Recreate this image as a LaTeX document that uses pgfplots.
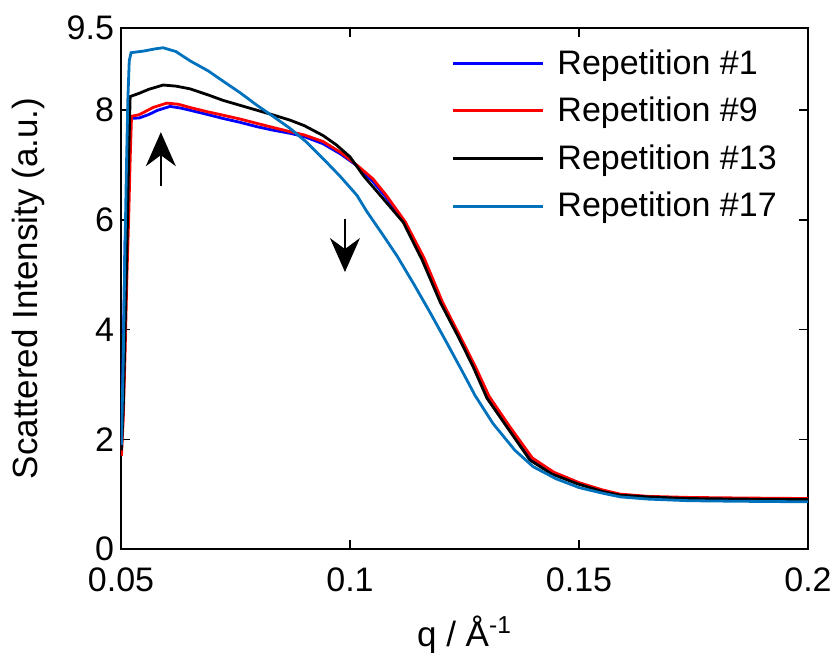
\documentclass[border=0pt]{standalone}
\usepackage{pgfplots}
\pgfplotsset{compat=1.18}
\usepackage{pgfplotstable}
\usepackage{fontspec}
\setmainfont{Liberation Sans}
\usetikzlibrary{arrows.meta}
\definecolor{matblue}{HTML}{0072BD}

\pgfplotstableread{
q I
0.0501 1.85
0.0505 3.6
0.0509 5.6
0.0513 6.3
0.0516 7.1
0.0520 7.85
0.0540 7.86
0.0560 7.92
0.0580 8.00
0.0607 8.07
0.0630 8.04
0.0651 8.00
0.0690 7.92
0.0723 7.85
0.0760 7.78
0.0797 7.70
0.0830 7.64
0.0869 7.58
0.0900 7.52
0.0941 7.39
0.0980 7.20
0.1015 6.99
0.1050 6.70
0.1080 6.40
0.1119 5.96
0.1160 5.30
0.1200 4.50
0.1240 3.85
0.1272 3.32
0.1302 2.75
0.1346 2.22
0.1396 1.63
0.1440 1.38
0.1500 1.20
0.1550 1.06
0.1590 0.99
0.1650 0.95
0.1740 0.92
0.1850 0.91
0.2000 0.90
}\repA

\pgfplotstableread{
q I
0.0501 1.70
0.0505 2.4
0.0509 3.6
0.0513 5.0
0.0517 6.1
0.0520 7.1
0.0523 7.89
0.0540 7.92
0.0570 8.05
0.0600 8.13
0.0625 8.11
0.0651 8.05
0.0690 7.97
0.0723 7.91
0.0760 7.84
0.0797 7.76
0.0830 7.69
0.0869 7.61
0.0900 7.55
0.0941 7.43
0.0980 7.23
0.1015 7.00
0.1050 6.75
0.1080 6.44
0.1121 5.96
0.1162 5.30
0.1202 4.50
0.1242 3.85
0.1274 3.32
0.1304 2.78
0.1348 2.24
0.1398 1.66
0.1445 1.40
0.1500 1.21
0.1550 1.08
0.1590 1.00
0.1650 0.96
0.1740 0.94
0.1850 0.93
0.2000 0.92
}\repB

\pgfplotstableread{
q I
0.0501 1.8
0.0505 2.6
0.0509 4.0
0.0513 5.5
0.0517 7.2
0.0520 8.25
0.0540 8.31
0.0560 8.38
0.0592 8.46
0.0620 8.44
0.0651 8.39
0.0690 8.28
0.0723 8.18
0.0760 8.09
0.0797 8.00
0.0830 7.92
0.0869 7.82
0.0900 7.72
0.0941 7.54
0.0970 7.37
0.1000 7.15
0.1030 6.80
0.1066 6.45
0.1116 5.96
0.1157 5.28
0.1197 4.50
0.1237 3.86
0.1269 3.32
0.1299 2.75
0.1343 2.22
0.1393 1.62
0.1440 1.37
0.1496 1.19
0.1550 1.05
0.1590 0.98
0.1650 0.95
0.1736 0.92
0.1850 0.91
0.2000 0.90
}\repC

\pgfplotstableread{
q I
0.0501 1.9
0.0505 3.5
0.0509 5.6
0.0512 7.0
0.0515 8.2
0.0518 8.9
0.0522 9.05
0.0550 9.08
0.0575 9.12
0.0592 9.14
0.0620 9.07
0.0651 8.90
0.0690 8.72
0.0723 8.53
0.0760 8.32
0.0797 8.09
0.0830 7.90
0.0869 7.67
0.0905 7.42
0.0941 7.12
0.0978 6.80
0.1015 6.45
0.1037 6.15
0.1070 5.75
0.1103 5.34
0.1140 4.82
0.1175 4.31
0.1210 3.78
0.1247 3.21
0.1273 2.80
0.1312 2.29
0.1360 1.80
0.1400 1.50
0.1450 1.28
0.1500 1.12
0.1550 1.02
0.1590 0.95
0.1650 0.91
0.1740 0.88
0.1850 0.87
0.2000 0.86
}\repD

\begin{document}
\begin{tikzpicture}
\begin{axis}[
  name=ax,
  scale only axis,
  width=343.5pt, height=260.5pt,
  xmin=0.05, xmax=0.2, ymin=0, ymax=9.5,
  xtick={0.05,0.1,0.15,0.2},
  xticklabels={0.05,0.1,0.15,0.2},
  ytick={0,2,4,6,8,9.5},
  yticklabels={0,2,4,6,8,9.5},
  scaled x ticks=false,
  /pgf/number format/assume math mode=true,
  tick align=inside,
  xtick pos=both, ytick pos=both,
  major tick length=4.5pt,
  axis line style={line width=0.8pt},
  every tick/.style={black, line width=0.8pt},
  tick label style={font=\fontsize{17}{20}\selectfont},
  label style={font=\fontsize{17.5}{20}\selectfont},
  xlabel={q / Å\textsuperscript{-1}},
  ylabel={Scattered Intensity (a.u.)},
  xticklabel style={inner ysep=0.5pt, yshift=-8.7pt},
  yticklabel style={inner ysep=0.5pt},
  xlabel style={yshift=-8pt},
  ylabel style={yshift=4pt},
  legend style={draw=none, fill=none, at={(0.472,0.975)}, anchor=north west,
    font=\fontsize{17}{20}\selectfont, row sep=6pt,
    /tikz/every odd column/.append style={column sep=4.5pt}},
  legend cell align=left,
  legend image code/.code={\draw[#1] (0pt,0pt) -- (45pt,0pt);},
  every axis plot/.append style={line width=1.4pt},
]
\addplot[color=blue] table[x=q,y=I] {\repA};
\addlegendentry{Repetition \#1}
\addplot[color=red] table[x=q,y=I] {\repB};
\addlegendentry{Repetition \#9}
\addplot[color=black] table[x=q,y=I] {\repC};
\addlegendentry{Repetition \#13}
\addplot[color=matblue] table[x=q,y=I] {\repD};
\addlegendentry{Repetition \#17}
\draw[line width=0.7pt, -{Stealth[length=17pt,width=15pt,inset=5.5pt]}] (axis cs:0.0587,6.62) -- (axis cs:0.0587,7.60);
\draw[line width=0.7pt, -{Stealth[length=17pt,width=15pt,inset=5.5pt]}] (axis cs:0.0989,6.02) -- (axis cs:0.0989,5.05);
\end{axis}
\pgfresetboundingbox
\path ([xshift=-60.5pt,yshift=-52pt]ax.south west) rectangle ([xshift=13pt,yshift=14pt]ax.north east);
\end{tikzpicture}
\end{document}
